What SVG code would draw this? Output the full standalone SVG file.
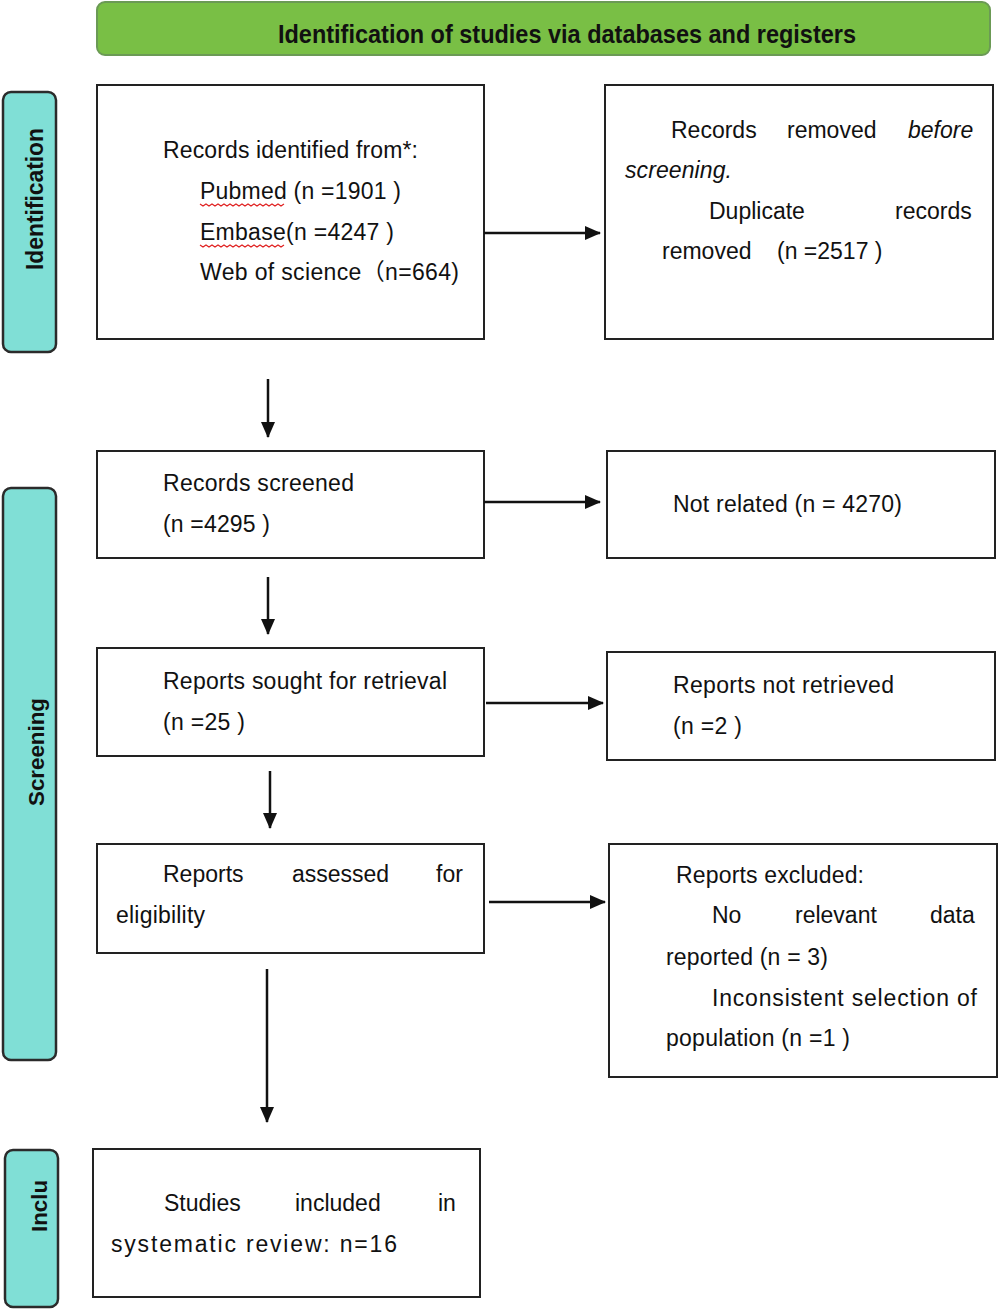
<svg xmlns="http://www.w3.org/2000/svg" width="1000" height="1311" viewBox="0 0 1000 1311">
<defs>
<marker id="ah" markerUnits="userSpaceOnUse" markerWidth="16" markerHeight="14" refX="15" refY="7" orient="auto">
<path d="M0,0 L16,7 L0,14 Z" fill="#111"/>
</marker>
<style>
.box{fill:#fff;stroke:#222;stroke-width:2}
.side{fill:#80dfd6;stroke:#2b2b2b;stroke-width:2.5}
.t{font-family:"Liberation Sans",Arial,"Noto Sans CJK SC",sans-serif;font-size:23px;fill:#111}
.it{font-style:italic}
.sl{font-family:"Liberation Sans",Arial,sans-serif;font-weight:bold;font-size:22px;fill:#111}
.con{stroke:#111;stroke-width:2.5;fill:none;marker-end:url(#ah)}
.wavy{stroke:#e02020;stroke-width:1.2;fill:none}
</style>
</defs>
<rect width="1000" height="1311" fill="#fff"/>

<g id="banner">
<rect x="97" y="2" width="893" height="53" rx="8" fill="#79bf45" stroke="#6b9a55" stroke-width="2"/>
<text x="278" y="43" class="sl" style="font-size:25px" textLength="578" lengthAdjust="spacingAndGlyphs">Identification of studies via databases and registers</text>
</g>

<g id="side-identification">
<rect x="3" y="92" width="53" height="260" rx="8" class="side"/>
<text class="sl" style="font-size:23px" transform="translate(43,270) rotate(-90)" textLength="142" lengthAdjust="spacingAndGlyphs">Identification</text>
</g>
<g id="side-screening">
<rect x="3" y="488" width="53" height="572" rx="8" class="side"/>
<text class="sl" transform="translate(44,806) rotate(-90)" textLength="108" lengthAdjust="spacingAndGlyphs">Screening</text>
</g>
<g id="side-included">
<rect x="5" y="1150" width="53" height="157" rx="8" class="side"/>
<text class="sl" transform="translate(47,1232) rotate(-90)" textLength="52" lengthAdjust="spacingAndGlyphs">Inclu</text>
</g>

<g id="identified">
<rect x="97" y="85" width="387" height="254" class="box"/>
<text class="t" x="163" y="158" textLength="255">Records identified from*:</text>
<text class="t" x="200" y="199" textLength="201">Pubmed (n =1901 )</text>
<text class="t" x="200" y="240" textLength="194">Embase(n =4247 )</text>
<text class="t" x="200" y="280" textLength="259">Web of science（n=664)</text>
<path class="wavy" d="M200,204 l3,2 l3,-2 l3,2 l3,-2 l3,2 l3,-2 l3,2 l3,-2 l3,2 l3,-2 l3,2 l3,-2 l3,2 l3,-2 l3,2 l3,-2 l3,2 l3,-2 l3,2 l3,-2 l3,2 l3,-2 l3,2 l3,-2 l3,2 l3,-2 l3,2 l3,-2"/>
<path class="wavy" d="M200,245 l3,2 l3,-2 l3,2 l3,-2 l3,2 l3,-2 l3,2 l3,-2 l3,2 l3,-2 l3,2 l3,-2 l3,2 l3,-2 l3,2 l3,-2 l3,2 l3,-2 l3,2 l3,-2 l3,2 l3,-2 l3,2 l3,-2 l3,2 l3,-2 l3,2 l3,-2"/>
</g>

<g id="removed">
<rect x="605" y="85" width="388" height="254" class="box"/>
<text class="t" y="138"><tspan x="671">Records</tspan><tspan x="787">removed</tspan><tspan x="908" class="it">before</tspan></text>
<text class="t it" x="625" y="178" textLength="107">screening.</text>
<text class="t" y="219"><tspan x="709">Duplicate</tspan><tspan x="895">records</tspan></text>
<text class="t" y="259"><tspan x="662">removed</tspan><tspan x="777">(n =2517 )</tspan></text>
</g>

<g id="screened">
<rect x="97" y="451" width="387" height="107" class="box"/>
<text class="t" x="163" y="491" textLength="191">Records screened</text>
<text class="t" x="163" y="532" textLength="107">(n =4295 )</text>
</g>

<g id="notrelated">
<rect x="607" y="451" width="388" height="107" class="box"/>
<text class="t" x="673" y="512" textLength="229">Not related (n = 4270)</text>
</g>

<g id="sought">
<rect x="97" y="648" width="387" height="108" class="box"/>
<text class="t" x="163" y="689" textLength="284">Reports sought for retrieval</text>
<text class="t" x="163" y="730" textLength="82">(n =25 )</text>
</g>

<g id="notretrieved">
<rect x="607" y="652" width="388" height="108" class="box"/>
<text class="t" x="673" y="693" textLength="221">Reports not retrieved</text>
<text class="t" x="673" y="734" textLength="69">(n =2 )</text>
</g>

<g id="assessed">
<rect x="97" y="844" width="387" height="109" class="box"/>
<text class="t" y="882"><tspan x="163">Reports</tspan><tspan x="292">assessed</tspan><tspan x="436">for</tspan></text>
<text class="t" x="116" y="923" textLength="89">eligibility</text>
</g>

<g id="excluded">
<rect x="609" y="844" width="388" height="233" class="box"/>
<text class="t" x="676" y="883" textLength="188">Reports excluded:</text>
<text class="t" y="923"><tspan x="712">No</tspan><tspan x="795">relevant</tspan><tspan x="930">data</tspan></text>
<text class="t" x="666" y="965" textLength="162">reported (n = 3)</text>
<text class="t" x="712" y="1006" textLength="265">Inconsistent selection of</text>
<text class="t" x="666" y="1046" textLength="184">population (n =1 )</text>
</g>

<g id="included">
<rect x="93" y="1149" width="387" height="148" class="box"/>
<text class="t" y="1211"><tspan x="164">Studies</tspan><tspan x="295">included</tspan><tspan x="438">in</tspan></text>
<text class="t" x="111" y="1252" textLength="286">systematic review: n=16</text>
</g>

<g id="connectors">
<line class="con" x1="484" y1="233" x2="600" y2="233"/>
<line class="con" x1="268" y1="379" x2="268" y2="437"/>
<line class="con" x1="484" y1="502" x2="600" y2="502"/>
<line class="con" x1="268" y1="577" x2="268" y2="634"/>
<line class="con" x1="486" y1="703" x2="603" y2="703"/>
<line class="con" x1="270" y1="771" x2="270" y2="828"/>
<line class="con" x1="489" y1="902" x2="605" y2="902"/>
<line class="con" x1="267" y1="969" x2="267" y2="1122"/>
</g>
</svg>
